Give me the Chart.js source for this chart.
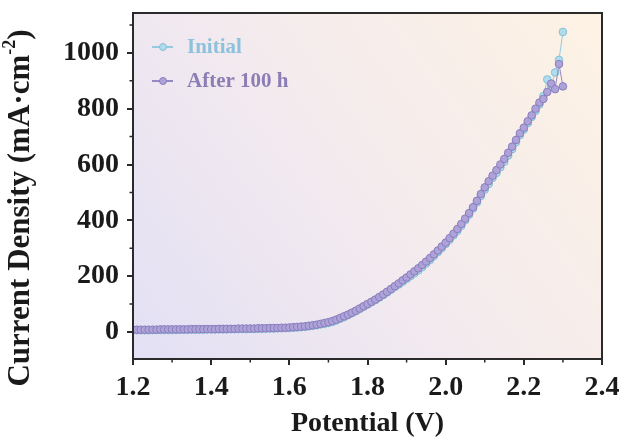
<!DOCTYPE html>
<html>
<head>
<meta charset="utf-8">
<script src="https://cdn.jsdelivr.net/npm/chart.js@4.4.1/dist/chart.umd.min.js"></script>
<style>
  body { margin: 0; background: #fff; }
  #wrap { width: 626px; height: 441px; }
</style>
</head>
<body>
<div id="wrap"><canvas id="lsvChart" width="626" height="441"></canvas></div>
<script>
// Potential (V) grid of the sweep
const potential = [
  1.20, 1.21, 1.22, 1.23, 1.24, 1.25, 1.26, 1.27, 1.28, 1.29,
  1.30, 1.31, 1.32, 1.33, 1.34, 1.35, 1.36, 1.37, 1.38, 1.39,
  1.40, 1.41, 1.42, 1.43, 1.44, 1.45, 1.46, 1.47, 1.48, 1.49,
  1.50, 1.51, 1.52, 1.53, 1.54, 1.55, 1.56, 1.57, 1.58, 1.59,
  1.60, 1.61, 1.62, 1.63, 1.64, 1.65, 1.66, 1.67, 1.68, 1.69,
  1.70, 1.71, 1.72, 1.73, 1.74, 1.75, 1.76, 1.77, 1.78, 1.79,
  1.80, 1.81, 1.82, 1.83, 1.84, 1.85, 1.86, 1.87, 1.88, 1.89,
  1.90, 1.91, 1.92, 1.93, 1.94, 1.95, 1.96, 1.97, 1.98, 1.99,
  2.00, 2.01, 2.02, 2.03, 2.04, 2.05, 2.06, 2.07, 2.08, 2.09,
  2.10, 2.11, 2.12, 2.13, 2.14, 2.15, 2.16, 2.17, 2.18, 2.19,
  2.20, 2.21, 2.22, 2.23, 2.24, 2.25, 2.26, 2.27, 2.28, 2.29,
  2.30
];

// Current density (mA·cm-2)
const initialJ = [
  6, 6, 6, 6, 6, 7, 7, 7, 7, 7,
  7, 7, 8, 8, 8, 8, 8, 8, 8, 9,
  9, 9, 9, 9, 9, 10, 10, 10, 10, 10,
  11, 11, 11, 11, 12, 12, 12, 13, 13, 14,
  14, 15, 16, 17, 18, 20, 22, 24, 27, 29,
  32, 36, 41, 47, 53, 60, 67, 74, 82, 90,
  98, 106, 114, 123, 132, 141, 151, 161, 170, 180,
  190, 200, 210, 220, 232, 245, 258, 272, 286, 300,
  315, 330, 346, 362, 380, 400, 420, 442, 464, 487,
  510, 530, 552, 570, 590, 610, 632, 655, 680, 705,
  725, 748, 770, 792, 815, 845, 905, 880, 930, 975,
  1075
];

const after100J = [
  8, 8, 8, 8, 8, 8, 8, 9, 9, 9,
  9, 9, 9, 9, 9, 10, 10, 10, 10, 10,
  10, 10, 11, 11, 11, 11, 11, 12, 12, 12,
  12, 12, 13, 13, 13, 14, 14, 14, 15, 15,
  16, 17, 18, 19, 20, 22, 24, 26, 29, 32,
  35, 39, 44, 50, 56, 62, 69, 76, 84, 92,
  100, 108, 116, 125, 134, 144, 154, 164, 174, 185,
  195, 206, 217, 228, 240, 252, 265, 278, 292, 306,
  320, 336, 352, 369, 387, 406, 426, 447, 470, 494,
  518, 540, 560, 580, 600, 620, 642, 664, 688, 712,
  732, 755, 776, 800, 822, 835, 860, 890, 870, 960,
  880
];

const seriesNames = ['Initial', 'After 100 h'];
const xTicks = [1.2, 1.4, 1.6, 1.8, 2.0, 2.2, 2.4];
const xMinor = [1.3, 1.5, 1.7, 1.9, 2.1, 2.3];
const yTicks = [0, 200, 400, 600, 800, 1000];
const yMinor = [100, 300, 500, 700, 900, 1100];

const serif = "'Liberation Serif', 'Times New Roman', serif";
const axisColor = '#2a2a2a';

// background, frame, minor ticks, y title and inside legend
const plotDecor = {
    id: 'plotDecor',
    beforeDraw(chart) {
        const { ctx, chartArea: a } = chart;
        const g = ctx.createLinearGradient(a.left, a.bottom, a.right, a.top);
        g.addColorStop(0, '#e3e0f5');
        g.addColorStop(0.5, '#f4ebee');
        g.addColorStop(1, '#fdf2e3');
        ctx.save();
        ctx.fillStyle = g;
        ctx.fillRect(a.left, a.top, a.right - a.left, a.bottom - a.top);
        ctx.restore();
    },
    afterDraw(chart) {
        const { ctx, chartArea: a, scales } = chart;
        ctx.save();

        // frame
        ctx.strokeStyle = axisColor;
        ctx.lineWidth = 2;
        ctx.strokeRect(a.left, a.top, a.right - a.left, a.bottom - a.top);

        // minor ticks
        ctx.lineWidth = 1.5;
        ctx.beginPath();
        xMinor.forEach(v => {
            const px = scales.x.getPixelForValue(v);
            ctx.moveTo(px, a.bottom);
            ctx.lineTo(px, a.bottom + 3.5);
        });
        yMinor.forEach(v => {
            const py = scales.y.getPixelForValue(v);
            ctx.moveTo(a.left, py);
            ctx.lineTo(a.left - 3.5, py);
        });
        ctx.stroke();

        // y axis title with superscript
        ctx.translate(21, 208);
        ctx.rotate(-Math.PI / 2);
        ctx.fillStyle = '#1a1a1a';
        ctx.textBaseline = 'middle';
        ctx.textAlign = 'left';
        const bigFont = `bold 31px ${serif}`;
        const supFont = `bold 18px ${serif}`;
        const mainTxt = 'Current Density (mA\u00b7cm';
        const supTxt = '-2';
        const endTxt = ')';
        ctx.font = bigFont;
        const w1 = ctx.measureText(mainTxt).width;
        const w3 = ctx.measureText(endTxt).width;
        ctx.font = supFont;
        const w2 = ctx.measureText(supTxt).width;
        let x = -(w1 + w2 + w3) / 2;
        ctx.font = bigFont;
        ctx.fillText(mainTxt, x, 0);
        x += w1;
        ctx.font = supFont;
        ctx.fillText(supTxt, x, -11);
        x += w2;
        ctx.font = bigFont;
        ctx.fillText(endTxt, x, 0);
        ctx.setTransform(1, 0, 0, 1, 0, 0);

        // legend inside the plot
        chart.data.datasets.forEach((ds, i) => {
            const y = a.top + 34 + i * 34;
            const x0 = a.left + 19;
            ctx.strokeStyle = ds.borderColor;
            ctx.lineWidth = 2;
            ctx.beginPath();
            ctx.moveTo(x0, y);
            ctx.lineTo(x0 + 21, y);
            ctx.stroke();
            ctx.beginPath();
            ctx.arc(x0 + 11, y, 3.5, 0, Math.PI * 2);
            ctx.fillStyle = ds.pointBackgroundColor;
            ctx.fill();
            ctx.lineWidth = 1;
            ctx.strokeStyle = ds.pointBorderColor;
            ctx.stroke();
            ctx.font = `bold 21px ${serif}`;
            ctx.textBaseline = 'middle';
            ctx.fillStyle = ds.legendColor;
            ctx.fillText(ds.label, x0 + 35, y + 1);
        });
        ctx.restore();
    }
};

const ctx = document.getElementById('lsvChart').getContext('2d');

new Chart(ctx, {
    type: 'line',
    data: {
        datasets: [
            {
                label: seriesNames[0],
                data: potential.map((v, i) => ({ x: v, y: initialJ[i] })),
                borderColor: '#93cbe2',
                borderWidth: 1,
                pointBackgroundColor: '#b0dcec',
                pointBorderColor: '#86c0da',
                pointBorderWidth: 1,
                pointRadius: 3.8,
                legendColor: '#8ec2dc',
                order: 1
            },
            {
                label: seriesNames[1],
                data: potential.map((v, i) => ({ x: v, y: after100J[i] })),
                borderColor: '#958ac6',
                borderWidth: 1,
                pointBackgroundColor: '#aea3d8',
                pointBorderColor: '#8a7dbd',
                pointBorderWidth: 1,
                pointRadius: 3.8,
                legendColor: '#8a7eb4',
                order: 0
            }
        ]
    },
    options: {
        responsive: false,
        animation: false,
        layout: { padding: { top: 13, right: 24, left: 0, bottom: 0 } },
        plugins: {
            legend: { display: false },
            tooltip: { enabled: false }
        },
        scales: {
            x: {
                type: 'linear',
                min: 1.2,
                max: 2.4,
                afterFit: s => { s.height = 82; s.paddingLeft = 0; s.paddingRight = 0; },
                afterBuildTicks: s => { s.ticks = xTicks.map(v => ({ value: v })); },
                border: { display: false },
                grid: { drawOnChartArea: false, color: axisColor, lineWidth: 2, tickLength: 6 },
                ticks: {
                    color: '#1a1a1a',
                    padding: 6,
                    maxRotation: 0,
                    font: { family: serif, size: 28, weight: 'bold' },
                    callback: v => v.toFixed(1)
                },
                title: {
                    display: true,
                    text: 'Potential (V)',
                    color: '#1a1a1a',
                    padding: { top: 0, bottom: 0 },
                    font: { family: serif, size: 28, weight: 'bold' }
                }
            },
            y: {
                type: 'linear',
                min: -97,
                max: 1143,
                afterFit: s => { s.width = 133; s.paddingTop = 0; s.paddingBottom = 0; },
                afterBuildTicks: s => { s.ticks = yTicks.map(v => ({ value: v })); },
                border: { display: false },
                grid: { drawOnChartArea: false, color: axisColor, lineWidth: 2, tickLength: 6 },
                ticks: {
                    color: '#1a1a1a',
                    padding: 8,
                    font: { family: serif, size: 28, weight: 'bold' },
                    callback: v => String(v)
                }
            }
        }
    },
    plugins: [plotDecor]
});
</script>
</body>
</html>
